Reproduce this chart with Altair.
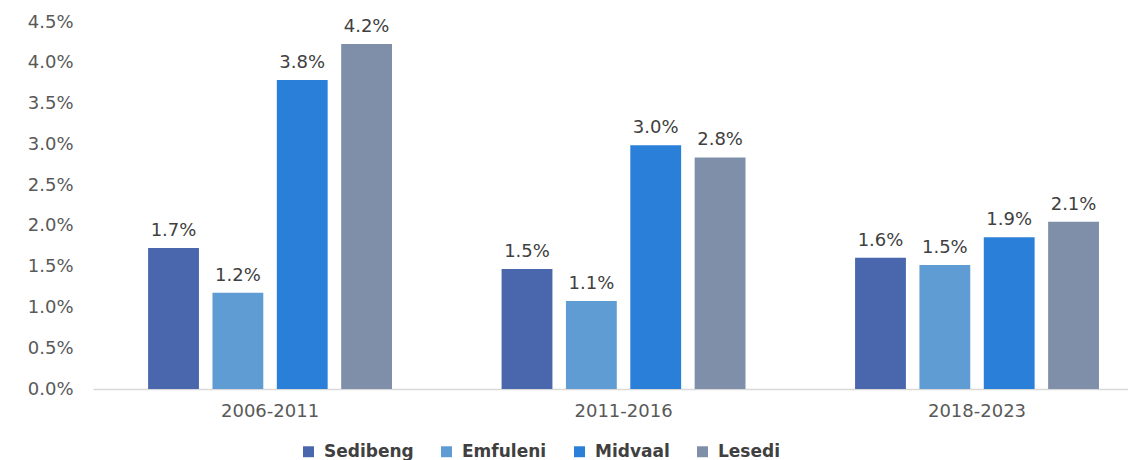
import altair as alt
import pandas as pd

periods = ["2006-2011", "2011-2016", "2018-2023"]
series = ["Sedibeng", "Emfuleni", "Midvaal", "Lesedi"]
colors = ["#4a66ac", "#5e9cd3", "#2a7fd8", "#7f8fa9"]

sedibeng = [0.0173, 0.0147, 0.0161]
emfuleni = [0.0118, 0.0108, 0.0152]
midvaal = [0.0379, 0.0299, 0.0186]
lesedi = [0.0423, 0.0284, 0.0205]
y_ticks = [0.0, 0.005, 0.01, 0.015, 0.02, 0.025, 0.03, 0.035, 0.04, 0.045]

rows = []
for name, vals in zip(series, [sedibeng, emfuleni, midvaal, lesedi]):
    for p, v in zip(periods, vals):
        rows.append({"period": p, "series": name, "value": v})
df = pd.DataFrame(rows)

FONT = "DejaVu Sans"

base = alt.Chart(df).encode(
    x=alt.X(
        "period:N",
        sort=periods,
        title=None,
        scale=alt.Scale(paddingInner=0.31, paddingOuter=0.119, align=0.655),
        axis=alt.Axis(
            labelAngle=0, ticks=False, labelPadding=13, labelFontSize=18,
            labelFont=FONT, labelColor="#595959", domainColor="#d9d9d9",
            domainWidth=1.5,
        ),
    ),
    xOffset=alt.XOffset(
        "series:N", sort=series,
        scale=alt.Scale(paddingInner=0.21, paddingOuter=0),
    ),
    y=alt.Y(
        "value:Q",
        title=None,
        scale=alt.Scale(domain=[0, 0.045], nice=False),
        axis=alt.Axis(
            values=y_ticks, format=".1%", grid=False, domain=False, ticks=False,
            labelPadding=20, labelFontSize=18, labelFont=FONT,
            labelColor="#595959",
        ),
    ),
)

bars = base.mark_bar().encode(
    color=alt.Color(
        "series:N",
        sort=series,
        scale=alt.Scale(domain=series, range=colors),
        legend=alt.Legend(
            title=None, orient="none", legendX=207, legendY=421,
            direction="horizontal", symbolType="square", symbolSize=120,
            symbolStrokeWidth=0, labelOffset=7, columnPadding=24,
            labelFontSize=17, labelFont=FONT, labelFontWeight="bold",
            labelColor="#404040",
        ),
    )
)

labels = base.mark_text(
    dy=-12, baseline="alphabetic", font=FONT, fontSize=18, color="#404040"
).encode(text=alt.Text("value:Q", format=".1%"))

chart = (
    alt.layer(bars, labels)
    .properties(
        width=1035,
        height=367,
        autosize=alt.AutoSizeParams(type="none"),
        padding={"left": 85, "top": 14, "right": 0, "bottom": 71},
    )
    .configure_view(stroke=None)
)

chart.save("out.html", embed_options={"renderer": "svg", "actions": False})
